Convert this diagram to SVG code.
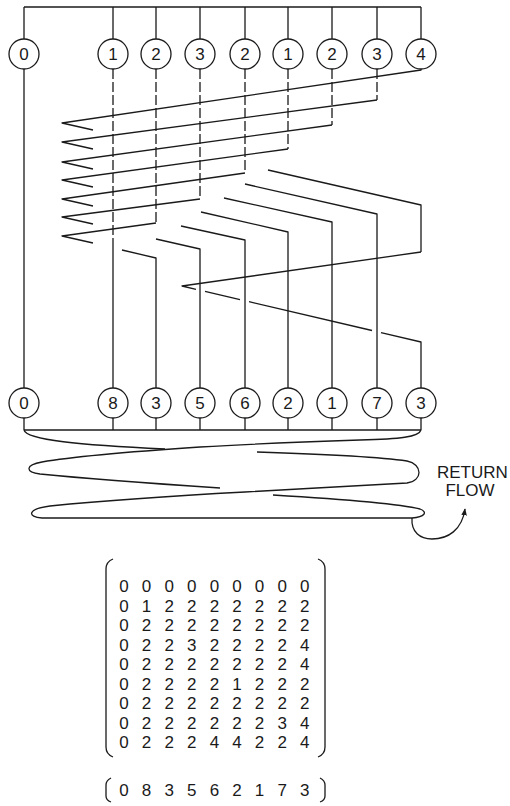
<svg xmlns="http://www.w3.org/2000/svg" width="510" height="806" viewBox="0 0 510 806">
<style>
.ln{fill:none;stroke:#1a1a1a;stroke-width:1.3;stroke-linejoin:round;stroke-linecap:butt}
.dash{stroke-dasharray:10 3}
.nd circle{fill:#fff;stroke:#1a1a1a;stroke-width:1.3}
.nd text{font-family:"Liberation Sans",Arial,sans-serif;font-size:17px;fill:#1a1a1a;text-anchor:middle}
.lbl{font-family:"Liberation Sans",Arial,sans-serif;font-size:17px;fill:#1a1a1a}
.mx{font-family:"Liberation Sans",Arial,sans-serif;font-size:17px;fill:#1a1a1a;text-anchor:middle}
</style>
<defs>
<marker id="head" viewBox="0 0 10 10" refX="9" refY="5" markerWidth="7" markerHeight="7" orient="auto" markerUnits="userSpaceOnUse">
<path d="M0,1 L10,5 L0,9 z" fill="#1a1a1a"/>
</marker>
</defs>

<!-- connectors: headers, crossing network, collector and return coil -->
<g id="connectors" class="ln">
<!-- inlet header -->
<path d="M24,7 H421"/>
<path d="M24,7 V39 M113,7 V39 M156,7 V39 M200,7 V39 M245,7 V39 M288,7 V39 M332,7 V39 M377,7 V39 M421,7 V39"/>
<!-- straight passes -->
<path d="M24,69 V388"/>
<path class="dash" d="M113,69 V238"/>
<path d="M113,238 V388"/>
<!-- hidden descents to the turning points -->
<path class="dash" d="M377,69 V100 M332,69 V125 M288,69 V149 M245,69 V173 M200,69 V199 M156,69 V223"/>
<!-- rising runs to the left apexes -->
<path d="M421,69 V70 L62,123 L93,130"/>
<path d="M377,100 L62,142 L93,149"/>
<path d="M332,125 L62,162 L93,169"/>
<path d="M288,149 L62,180 L93,187"/>
<path d="M245,173 L62,199 L93,206"/>
<path d="M200,199 L62,217 L93,224"/>
<path d="M156,223 L62,236 L93,243"/>
<!-- returning runs to the outlet columns -->
<path d="M268,170 L421,205 V252"/>
<path d="M245,184 L377,214 V388"/>
<path d="M224,198 L332,222 V388"/>
<path d="M201,212 L288,232 V388"/>
<path d="M181,226 L245,240 V388"/>
<path d="M156,239 L200,249 V388"/>
<path d="M122,250 L156,258 V388"/>
<!-- last pass: back across and down -->
<path d="M421,252 L182,286 L196,289.3"/>
<path d="M205,291.4 L240,299.6"/>
<path d="M249,301.7 L372,330.5"/>
<path d="M381,332.6 L421,342 V388"/>
<!-- outlet collector -->
<path d="M24,418 V430 M113,418 V430 M156,418 V430 M200,418 V430 M245,418 V430 M288,418 V430 M332,418 V430 M377,418 V430 M421,418 V430"/>
<path d="M24,430 H421"/>
<!-- return coil -->
<path d="M24,430 C26,440 80,445 165,449"/>
<path d="M421,430 C419,437 400,439 360,440 C300,442 250,444 200,447 C140,451 70,457 42,462 C25,465 25,472 40,474 C90,479 160,484 220,488"/>
<path d="M257,452 C320,454 380,457 407,461 C423,464 423,481 407,483 C350,486 300,489 245,492 C170,496 90,502 50,506 C27,509 27,517 42,518 L412,518"/>
<path d="M273,495 C340,499 400,504 420,509 C428,512 425,517 412,518"/>
<path d="M412,518 C411,532 420,539 432,539 C448,539 462,530 465,509" marker-end="url(#head)"/>
</g>

<!-- inlet nodes -->
<g id="top-0" class="nd"><circle cx="24" cy="54" r="15"/><text x="24" y="60">0</text></g>
<g id="top-1" class="nd"><circle cx="113" cy="54" r="15"/><text x="113" y="60">1</text></g>
<g id="top-2" class="nd"><circle cx="156" cy="54" r="15"/><text x="156" y="60">2</text></g>
<g id="top-3" class="nd"><circle cx="200" cy="54" r="15"/><text x="200" y="60">3</text></g>
<g id="top-4" class="nd"><circle cx="245" cy="54" r="15"/><text x="245" y="60">2</text></g>
<g id="top-5" class="nd"><circle cx="288" cy="54" r="15"/><text x="288" y="60">1</text></g>
<g id="top-6" class="nd"><circle cx="332" cy="54" r="15"/><text x="332" y="60">2</text></g>
<g id="top-7" class="nd"><circle cx="377" cy="54" r="15"/><text x="377" y="60">3</text></g>
<g id="top-8" class="nd"><circle cx="421" cy="54" r="15"/><text x="421" y="60">4</text></g>

<!-- outlet nodes -->
<g id="bot-0" class="nd"><circle cx="24" cy="403" r="15"/><text x="24" y="409">0</text></g>
<g id="bot-1" class="nd"><circle cx="113" cy="403" r="15"/><text x="113" y="409">8</text></g>
<g id="bot-2" class="nd"><circle cx="156" cy="403" r="15"/><text x="156" y="409">3</text></g>
<g id="bot-3" class="nd"><circle cx="200" cy="403" r="15"/><text x="200" y="409">5</text></g>
<g id="bot-4" class="nd"><circle cx="245" cy="403" r="15"/><text x="245" y="409">6</text></g>
<g id="bot-5" class="nd"><circle cx="288" cy="403" r="15"/><text x="288" y="409">2</text></g>
<g id="bot-6" class="nd"><circle cx="332" cy="403" r="15"/><text x="332" y="409">1</text></g>
<g id="bot-7" class="nd"><circle cx="377" cy="403" r="15"/><text x="377" y="409">7</text></g>
<g id="bot-8" class="nd"><circle cx="421" cy="403" r="15"/><text x="421" y="409">3</text></g>

<g id="return-label" class="lbl">
<text x="437" y="478">RETURN</text>
<text x="470" y="496" text-anchor="middle">FLOW</text>
</g>

<!-- matrix -->
<g id="matrix">
<path class="ln" d="M113,559 C108,561 106,564 106,569 V747 C106,752 108,755 113,757"/>
<path class="ln" d="M318,559 C323,561 325,564 325,569 V747 C325,752 323,755 318,757"/>
<g class="mx">
<text x="124 146.6 169.2 191.8 214.4 237 259.6 282.2 304.8" y="592">000000000</text>
<text x="124 146.6 169.2 191.8 214.4 237 259.6 282.2 304.8" y="611.5">012222222</text>
<text x="124 146.6 169.2 191.8 214.4 237 259.6 282.2 304.8" y="631">022222222</text>
<text x="124 146.6 169.2 191.8 214.4 237 259.6 282.2 304.8" y="650.5">022322224</text>
<text x="124 146.6 169.2 191.8 214.4 237 259.6 282.2 304.8" y="670">022222224</text>
<text x="124 146.6 169.2 191.8 214.4 237 259.6 282.2 304.8" y="689.5">022221222</text>
<text x="124 146.6 169.2 191.8 214.4 237 259.6 282.2 304.8" y="709">022222222</text>
<text x="124 146.6 169.2 191.8 214.4 237 259.6 282.2 304.8" y="728.5">022222234</text>
<text x="124 146.6 169.2 191.8 214.4 237 259.6 282.2 304.8" y="748">022244224</text>
</g>
</g>

<!-- vector -->
<g id="vector">
<path class="ln" d="M111,778 C107,780 106,782 106,785 V796 C106,799 108,801 111,802"/>
<path class="ln" d="M320,778 C324,780 325,782 325,785 V796 C325,799 323,801 320,802"/>
<text class="mx" x="124 146.6 169.2 191.8 214.4 237 259.6 282.2 304.8" y="796">083562173</text>
</g>
</svg>
